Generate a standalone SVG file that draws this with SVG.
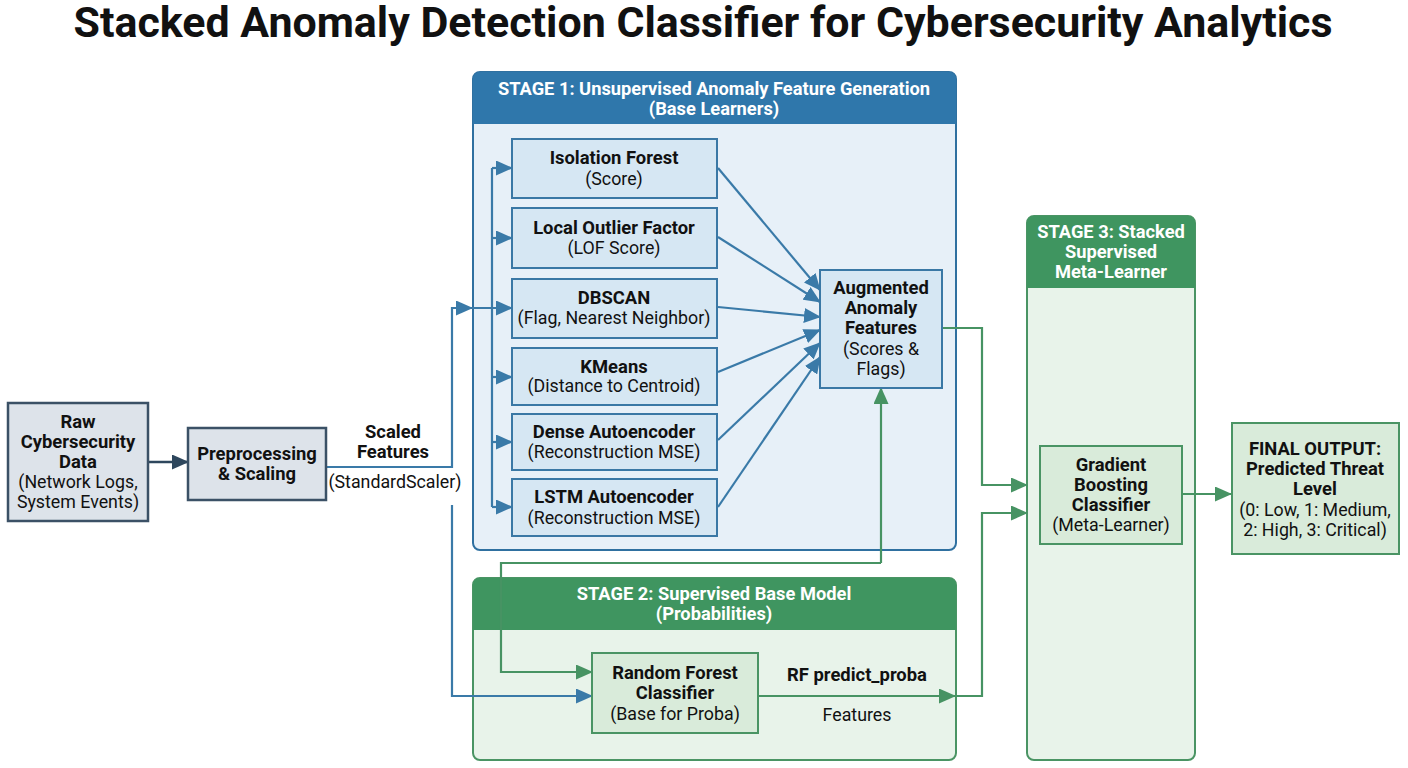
<svg xmlns="http://www.w3.org/2000/svg" width="1408" height="768" viewBox="0 0 1408 768">
<style>
text{font-family:Roboto,"Liberation Sans",sans-serif;text-anchor:middle;fill:#111}
.b{font-weight:bold;font-size:18.4px}
.r{font-size:17.8px}
.hw{font-weight:bold;font-size:18.3px;fill:#fff}
.title{font-weight:bold;font-size:42.5px}
.bl{fill:none;stroke:#3a7aa8;stroke-width:2.2}
.gl{fill:none;stroke:#479363;stroke-width:2.2}
.dl{fill:none;stroke:#2e475d;stroke-width:2.5}
.bbox{fill:#d6e7f3;stroke:#3a78a5;stroke-width:2}
.gbox{fill:#d9ebda;stroke:#4a9464;stroke-width:2}
.dbox{fill:#dde3ea;stroke:#3b5166;stroke-width:2.5}
</style>
<defs>
<marker id="ab" markerUnits="userSpaceOnUse" markerWidth="17" markerHeight="15" refX="16" refY="7.5" orient="auto"><path d="M0,0 L17,7.5 L0,15 z" fill="#3a7aa8"/></marker>
<marker id="ag" markerUnits="userSpaceOnUse" markerWidth="17" markerHeight="15" refX="16" refY="7.5" orient="auto"><path d="M0,0 L17,7.5 L0,15 z" fill="#479363"/></marker>
<marker id="ad" markerUnits="userSpaceOnUse" markerWidth="17" markerHeight="15" refX="16" refY="7.5" orient="auto"><path d="M0,0 L17,7.5 L0,15 z" fill="#2e475d"/></marker>
</defs>
<rect width="1408" height="768" fill="#fff"/>
<text class="title" x="703" y="37" textLength="1259" lengthAdjust="spacingAndGlyphs">Stacked Anomaly Detection Classifier for Cybersecurity Analytics</text>

<g id="stage1">
<rect x="473" y="72" width="483" height="478" rx="7" fill="#e7f0f8" stroke="#2f70a0" stroke-width="2"/>
<path d="M473,124 V79 a7,7 0 0 1 7,-7 H949 a7,7 0 0 1 7,7 V124 z" fill="#2f77ab"/>
<text class="hw" x="714" y="95">STAGE 1: Unsupervised Anomaly Feature Generation</text>
<text class="hw" x="714" y="115">(Base Learners)</text>
</g>
<g id="stage2">
<rect x="473" y="578" width="483" height="182" rx="7" fill="#e8f3ea" stroke="#4a9464" stroke-width="2"/>
<path d="M473,630 V585 a7,7 0 0 1 7,-7 H949 a7,7 0 0 1 7,7 V630 z" fill="#3f9560"/>
<text class="hw" x="714" y="600">STAGE 2: Supervised Base Model</text>
<text class="hw" x="714" y="620">(Probabilities)</text>
</g>
<g id="stage3">
<rect x="1027" y="216" width="168" height="544" rx="7" fill="#e8f3ea" stroke="#4a9464" stroke-width="2"/>
<path d="M1027,288 V223 a7,7 0 0 1 7,-7 H1188 a7,7 0 0 1 7,7 V288 z" fill="#3f9560"/>
<text class="hw" x="1111" y="238">STAGE 3: Stacked</text>
<text class="hw" x="1111" y="258">Supervised</text>
<text class="hw" x="1111" y="278">Meta-Learner</text>
</g>

<g id="connectors">
<line class="dl" x1="148" y1="462" x2="188" y2="462" marker-end="url(#ad)"/>
<path class="bl" d="M326,467 H452 V308 H472" marker-end="url(#ab)"/>
<line class="bl" x1="472" y1="308" x2="512" y2="308" marker-end="url(#ab)"/>
<path class="bl" d="M492,168 V507"/>
<line class="bl" x1="492" y1="168" x2="512" y2="168" marker-end="url(#ab)"/>
<line class="bl" x1="492" y1="238" x2="512" y2="238" marker-end="url(#ab)"/>
<line class="bl" x1="492" y1="377" x2="512" y2="377" marker-end="url(#ab)"/>
<line class="bl" x1="492" y1="442" x2="512" y2="442" marker-end="url(#ab)"/>
<line class="bl" x1="492" y1="507" x2="512" y2="507" marker-end="url(#ab)"/>
<path class="bl" d="M452,505 V696 H592" marker-end="url(#ab)"/>
<line class="bl" x1="718" y1="168" x2="820" y2="290" marker-end="url(#ab)"/>
<line class="bl" x1="718" y1="237" x2="820" y2="302" marker-end="url(#ab)"/>
<line class="bl" x1="718" y1="307" x2="820" y2="317" marker-end="url(#ab)"/>
<line class="bl" x1="718" y1="372" x2="820" y2="330" marker-end="url(#ab)"/>
<line class="bl" x1="718" y1="440" x2="820" y2="343" marker-end="url(#ab)"/>
<line class="bl" x1="718" y1="507" x2="820" y2="357" marker-end="url(#ab)"/>
<path class="gl" d="M942,328 H982 V485 H1027" marker-end="url(#ag)"/>
<path class="gl" d="M758,696 H955" marker-end="url(#ag)"/>
<path class="gl" d="M955,696 H982 V513 H1027" marker-end="url(#ag)"/>
<path class="gl" d="M881,563 V388" marker-end="url(#ag)"/>
<path class="gl" d="M881,563 H501 V672 H592" marker-end="url(#ag)"/>
<line class="gl" x1="1182" y1="494" x2="1231" y2="494" marker-end="url(#ag)"/>
</g>

<g id="raw">
<rect class="dbox" x="8" y="403" width="140" height="118"/>
<text class="b" x="78" y="428">Raw</text>
<text class="b" x="78" y="448">Cybersecurity</text>
<text class="b" x="78" y="468">Data</text>
<text class="r" x="78" y="488">(Network Logs,</text>
<text class="r" x="78" y="508">System Events)</text>
</g>
<g id="preprocessing">
<rect class="dbox" x="188" y="428" width="138" height="72"/>
<text class="b" x="257" y="460">Preprocessing</text>
<text class="b" x="257" y="480">&amp; Scaling</text>
</g>
<g id="scaled-label">
<text class="b" x="393" y="438">Scaled</text>
<text class="b" x="393" y="458">Features</text>
<text class="r" x="395" y="488">(StandardScaler)</text>
</g>
<g id="iforest">
<rect class="bbox" x="512" y="139" width="205" height="59"/>
<text class="b" x="614" y="164">Isolation Forest</text>
<text class="r" x="614" y="185">(Score)</text>
</g>
<g id="lof">
<rect class="bbox" x="512" y="208" width="205" height="60"/>
<text class="b" x="614" y="234">Local Outlier Factor</text>
<text class="r" x="614" y="254">(LOF Score)</text>
</g>
<g id="dbscan">
<rect class="bbox" x="512" y="279" width="205" height="59"/>
<text class="b" x="614" y="304">DBSCAN</text>
<text class="r" x="614" y="324">(Flag, Nearest Neighbor)</text>
</g>
<g id="kmeans">
<rect class="bbox" x="512" y="348" width="205" height="57"/>
<text class="b" x="614" y="373">KMeans</text>
<text class="r" x="614" y="392">(Distance to Centroid)</text>
</g>
<g id="dense-ae">
<rect class="bbox" x="512" y="414" width="205" height="56"/>
<text class="b" x="614" y="438">Dense Autoencoder</text>
<text class="r" x="614" y="458">(Reconstruction MSE)</text>
</g>
<g id="lstm-ae">
<rect class="bbox" x="512" y="479" width="205" height="57"/>
<text class="b" x="614" y="503">LSTM Autoencoder</text>
<text class="r" x="614" y="524">(Reconstruction MSE)</text>
</g>
<g id="augmented">
<rect class="bbox" x="820" y="270" width="122" height="118"/>
<text class="b" x="881" y="294">Augmented</text>
<text class="b" x="881" y="314">Anomaly</text>
<text class="b" x="881" y="334">Features</text>
<text class="r" x="881" y="355">(Scores &amp;</text>
<text class="r" x="881" y="375">Flags)</text>
</g>
<g id="random-forest">
<rect class="gbox" x="592" y="653" width="166" height="80"/>
<text class="b" x="675" y="679">Random Forest</text>
<text class="b" x="675" y="699">Classifier</text>
<text class="r" x="675" y="720">(Base for Proba)</text>
</g>
<g id="rf-label">
<text class="b" x="857" y="681">RF predict_proba</text>
<text class="r" x="857" y="721">Features</text>
</g>
<g id="gradient-boosting">
<rect class="gbox" x="1040" y="446" width="142" height="98"/>
<text class="b" x="1111" y="471">Gradient</text>
<text class="b" x="1111" y="491">Boosting</text>
<text class="b" x="1111" y="511">Classifier</text>
<text class="r" x="1111" y="531">(Meta-Learner)</text>
</g>
<g id="final-output">
<rect class="gbox" x="1232" y="423" width="167" height="131"/>
<text class="b" x="1315" y="455">FINAL OUTPUT:</text>
<text class="b" x="1315" y="475">Predicted Threat</text>
<text class="b" x="1315" y="495">Level</text>
<text class="r" x="1315" y="516">(0: Low, 1: Medium,</text>
<text class="r" x="1315" y="536">2: High, 3: Critical)</text>
</g>
</svg>
